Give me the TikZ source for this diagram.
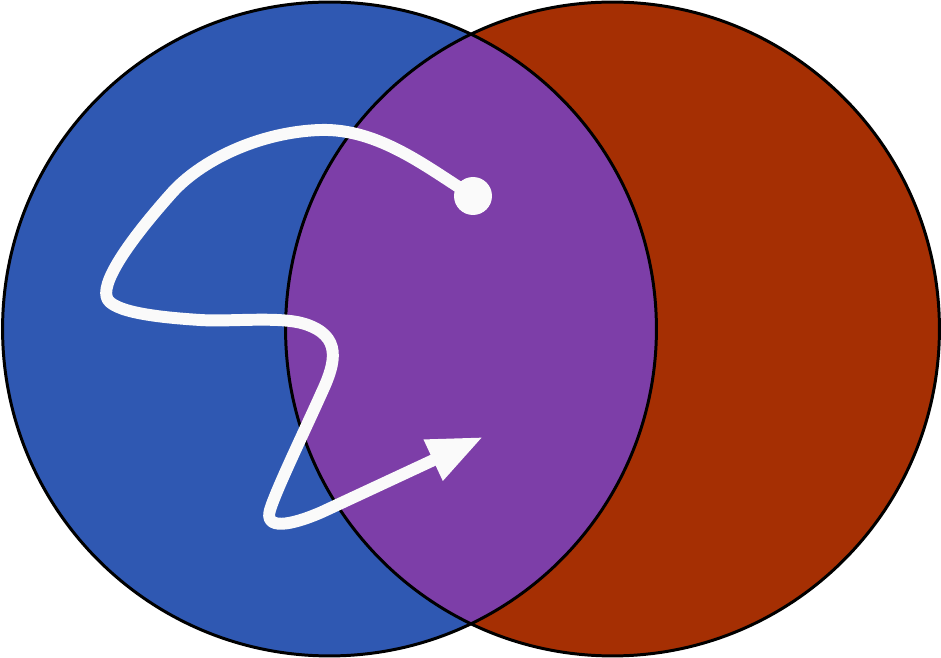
\documentclass[tikz,border=0pt]{standalone}
\usepackage{xcolor}
\usepackage{tikz}
\usetikzlibrary{arrows.meta}
\definecolor{setblue}{HTML}{2F58B2}
\definecolor{setred}{HTML}{A52F03}
\definecolor{setboth}{HTML}{7D3EA8}
\definecolor{trailwhite}{HTML}{FAFAFA}
\tikzset{
  % ---- sets -------------------------------------------------------------
  setrim/.style={draw=black, line width=1.7pt},
  % ---- the walk ---------------------------------------------------------
  mwalk/.style={
    draw=trailwhite, line width=6.8pt, line cap=round, line join=round,
    -{Triangle[length=1.1cm,width=0.84cm]}},
  mstart/.style={circle, fill=trailwhite, minimum size=0.76cm, inner sep=0pt},
}
\begin{document}
\begin{tikzpicture}[x=0.02cm, y=-0.02cm]
\useasboundingbox (0,0) rectangle (941,658);

% ---- the two sets -------------------------------------------------------
\coordinate (ca) at (329.5,329);
\coordinate (cb) at (612.5,329);
\fill[setblue] (ca) circle (6.54cm);
\fill[setred]  (cb) circle (6.54cm);
\begin{scope}
  \clip (ca) circle (6.54cm);
  \fill[setboth] (cb) circle (6.54cm);
\end{scope}
\draw[setrim] (ca) circle (6.54cm);
\draw[setrim] (cb) circle (6.54cm);

% ---- start and end of the walk -----------------------------------------
\node[mstart] (start) at (473,196) {};
\coordinate (stop) at (483,437);

% ---- the walk ------------------------------------------------------------
\draw[mwalk] (start.center)
  .. controls (430,170) and (380,128) .. (320,130)
  .. controls (260,132) and (200,160) .. (170,195)
  .. controls (130,240) and (98,285) .. (108,300)
  .. controls (118,314) and (170,318) .. (200,320)
  .. controls (230,322) and (280,316) .. (305,324)
  .. controls (342,336) and (336,362) .. (322,392)
  .. controls (305,430) and (276,490) .. (270,510)
  .. controls (264,530) and (290,526) .. (322,512)
  -- (stop);

\end{tikzpicture}
\end{document}
